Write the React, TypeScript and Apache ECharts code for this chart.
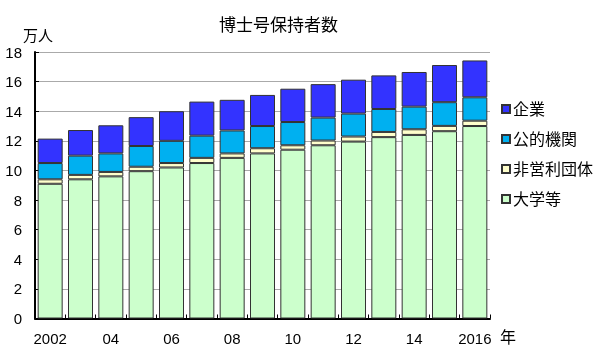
import React, { useEffect, useRef } from "react";
import * as echarts from "echarts";

const years = ["2002","2003","2004","2005","2006","2007","2008","2009","2010","2011","2012","2013","2014","2015","2016"];
const xTickLabels: Record<string, string> = {
  "2002": "2002", "2004": "04", "2006": "06", "2008": "08",
  "2010": "10", "2012": "12", "2014": "14", "2016": "2016",
};
const university = [9.1, 9.4, 9.6, 9.95, 10.2, 10.5, 10.85, 11.15, 11.4, 11.7, 11.95, 12.25, 12.4, 12.65, 13.0];
const nonprofit = [0.3, 0.3, 0.3, 0.3, 0.3, 0.35, 0.3, 0.35, 0.3, 0.32, 0.34, 0.35, 0.38, 0.36, 0.36];
const publicOrg = [1.1, 1.3, 1.25, 1.4, 1.5, 1.5, 1.55, 1.5, 1.57, 1.55, 1.55, 1.55, 1.53, 1.6, 1.58];
const company = [1.65, 1.73, 1.9, 1.95, 2.0, 2.3, 2.07, 2.1, 2.25, 2.26, 2.29, 2.27, 2.34, 2.51, 2.49];

const FONT = "'Liberation Sans', 'Noto Sans CJK JP', sans-serif";

export default function App() {
  const ref = useRef<HTMLDivElement>(null);
  useEffect(() => {
    if (!ref.current) return;
    const chart = echarts.init(ref.current, undefined, { renderer: "svg" });
    const mk = (name: string, data: number[], color: string) => ({
      name,
      type: "bar",
      stack: "total",
      data,
      barWidth: 25,
      itemStyle: { color, borderColor: "#333", borderWidth: 1 },
    });
    chart.setOption({
      animation: false,
      textStyle: { fontFamily: FONT },
      grid: { left: 35, right: 110, top: 52, bottom: 36.5 },
      graphic: [
        { type: "text", left: 219, top: 17, style: { text: "博士号保持者数", fontSize: 17, fontFamily: FONT, fill: "#000" } },
        { type: "text", left: 23, top: 28, style: { text: "万人", fontSize: 15, fontFamily: FONT, fill: "#000" } },
        { type: "text", left: 500, top: 329, style: { text: "年", fontSize: 16, fontFamily: FONT, fill: "#000" } },
      ],
      legend: {
        orient: "vertical",
        left: 496,
        top: 96,
        itemWidth: 8,
        itemHeight: 8,
        itemGap: 14,
        icon: "rect",
        data: ["企業", "公的機関", "非営利団体", "大学等"],
        textStyle: { fontSize: 16, fontFamily: FONT, color: "#000", padding: [0, 0, 0, -2] },
      },
      xAxis: {
        type: "category",
        data: years,
        axisLine: { lineStyle: { color: "#000", width: 2 } },
        axisTick: { show: true, inside: true, length: 4, interval: 0, lineStyle: { color: "#000" } },
        axisLabel: {
          interval: 0,
          margin: 12,
          fontSize: 15,
          color: "#000",
          fontFamily: FONT,
          formatter: (v: string) => xTickLabels[v] ?? "",
        },
      },
      yAxis: {
        type: "value",
        min: 0,
        max: 18,
        interval: 2,
        axisLine: { show: true, lineStyle: { color: "#000", width: 2 } },
        axisTick: { show: true, inside: true, length: 4, lineStyle: { color: "#000" } },
        axisLabel: { fontSize: 15, color: "#000", margin: 13, fontFamily: FONT },
        splitLine: { lineStyle: { color: "#aaa", width: 1 } },
      },
      series: [
        mk("大学等", university, "#ccffcc"),
        mk("非営利団体", nonprofit, "#ffffcc"),
        mk("公的機関", publicOrg, "#00b0f0"),
        mk("企業", company, "#3333ff"),
      ],
    });
    return () => chart.dispose();
  }, []);
  return <div ref={ref} style={{ width: 600, height: 355, position: "fixed", left: 0, top: 0 }} />;
}
